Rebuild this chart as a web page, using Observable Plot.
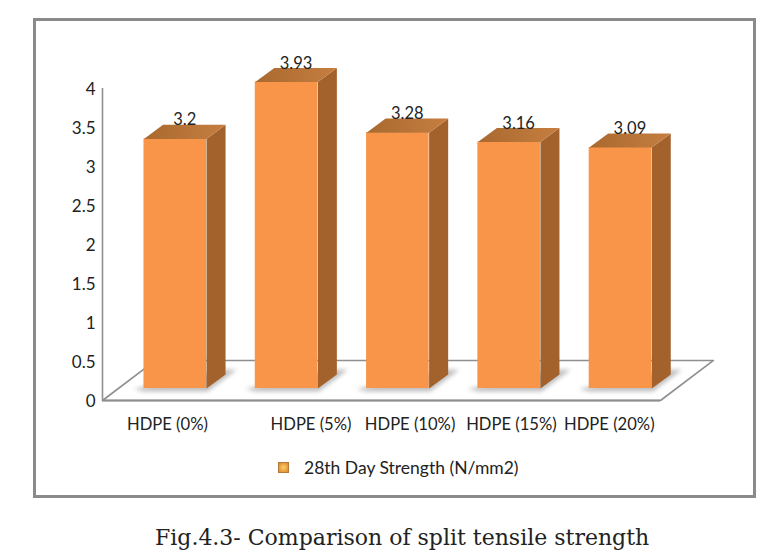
<!DOCTYPE html>
<html>
<head>
<meta charset="utf-8">
<script src="https://cdn.jsdelivr.net/npm/d3@7"></script>
<script src="https://cdn.jsdelivr.net/npm/@observablehq/plot@0.6"></script>
<style>
  html, body { margin: 0; background: #fff; }
  #page { position: relative; width: 773px; height: 553px; overflow: hidden; }
  #frame { position: absolute; left: 33px; top: 18px; width: 723px; height: 480px; box-sizing: border-box; border: 3px solid #8a8a8a; }
  #chart { position: absolute; left: 0; top: 0; }
  #legend { position: absolute; left: 278px; top: 457px; height: 20px; display: flex; align-items: center; font: 17.5px Lato, sans-serif; color: #222; white-space: nowrap; }
  #legend i { display: block; width: 11px; height: 11px; margin-right: 15px; background: radial-gradient(circle at 50% 50%, #fbd060, #dd8433); border: 0.5px solid #b5793a; box-sizing: border-box; }
  #caption { position: absolute; left: 155px; top: 525px; font: 22px "DejaVu Serif", serif; color: #222; white-space: nowrap; }
</style>
</head>
<body>
<div id="page">
  <div id="frame"></div>
  <div id="chart"></div>
  <div id="legend"><i></i><span id="legendText"></span></div>
  <div id="caption"></div>
</div>
<script>
const categories = ["HDPE (0%)", "HDPE (5%)", "HDPE (10%)", "HDPE (15%)", "HDPE (20%)"];
const strength = [3.2, 3.93, 3.28, 3.16, 3.09];
const yTicks = [0, 0.5, 1, 1.5, 2, 2.5, 3, 3.5, 4];
const labelNudge = [-0.07, 0.22, 0.11, 0.02, -0.10];
const seriesName = "28th Day Strength (N/mm2)";
const captionText = "Fig.4.3- Comparison of split tensile strength";

// Pseudo-3D geometry, in data units
const halfBar = 0.281, depthX = 0.171, depthY = 0.18;
const lift = 0.154;                    // bars stand inset on the floor
const floorDX = 0.476, floorDY = 0.513;
const xMin = -0.6536, xMax = 4.3598;

const bars = categories.map((name, i) => ({
  name, i, value: strength[i],
  l: i - halfBar, r: i + halfBar,
  b: lift, t: strength[i] + lift
}));

const poly = (fn) => bars.flatMap(b => fn(b).map(([x, y]) => ({x, y, z: b.i})));

const floor = [[xMin, 0], [xMax, 0], [xMax + floorDX, floorDY], [xMin + floorDX, floorDY]]
  .map(([x, y]) => ({x, y}));

const tops = poly(b => [[b.l, b.t], [b.r, b.t], [b.r + depthX, b.t + depthY], [b.l + depthX, b.t + depthY]]);
const sides = poly(b => [[b.r, b.b], [b.r + depthX, b.b + depthY], [b.r + depthX, b.t + depthY], [b.r, b.t]]);
const shadows = poly(b => [
  [b.l - 0.09, b.b - 0.005], [b.l, b.b - 0.04], [b.r + 0.01, b.b - 0.04],
  [b.r + 0.27, b.b + 0.24], [b.r + 0.13, b.b + 0.24]
]);

const defs = () => {
  const svg = d3.create("svg:defs");
  const g = svg.append("linearGradient").attr("id", "topGrad")
    .attr("x1", "0").attr("y1", "0").attr("x2", "1").attr("y2", "0");
  g.append("stop").attr("offset", "0").attr("stop-color", "#a9692f");
  g.append("stop").attr("offset", "1").attr("stop-color", "#c67e40");
  return svg.node();
};

const blurred = (index, scales, values, dims, ctx, next) => {
  const g = next(index, scales, values, dims, ctx);
  g.style.filter = "blur(2px)";
  return g;
};

const plot = Plot.plot({
  width: 773, height: 440,
  marginLeft: 102, marginRight: 113, marginTop: 88, marginBottom: 40,
  style: { background: "transparent", overflow: "visible" },
  x: { type: "linear", domain: [xMin, xMax], axis: null },
  y: { domain: [0, 4], axis: null },
  marks: [
    defs,
    Plot.line(floor, { x: "x", y: "y", curve: "linear-closed", fill: "#fff", stroke: "#8f8f8f", strokeWidth: 1.6 }),
    Plot.ruleY([0], { x1: xMin, x2: xMax, stroke: "#8f8f8f", strokeWidth: 2.2 }),
    Plot.ruleX([xMin], { y1: 0, y2: 4, stroke: "#8f8f8f", strokeWidth: 1.6 }),
    Plot.line(shadows, { x: "x", y: "y", z: "z", curve: "linear-closed", fill: "#8a8a8a", fillOpacity: 0.55, stroke: "none", render: blurred }),
    Plot.rectY(bars, { x1: "l", x2: "r", y1: "b", y2: "t", fill: "#f89548" }),
    Plot.line(sides, { x: "x", y: "y", z: "z", curve: "linear-closed", fill: "#a3622c", stroke: "none" }),
    Plot.line(tops, { x: "x", y: "y", z: "z", curve: "linear-closed", fill: "url(#topGrad)", stroke: "none" }),
    Plot.text(yTicks, { x: xMin, y: d => d, text: d => String(d), textAnchor: "end", dx: -7, dy: 1, fontSize: 17, fontFamily: "Lato", fill: "#222" }),
    Plot.text(bars, { x: d => d.i + labelNudge[d.i], y: 0, text: "name", dy: 24, fontSize: 16.6, fontFamily: "Lato", fill: "#222" }),
    Plot.text(bars, { x: d => d.i + 0.085, y: d => d.t + 0.24, text: d => String(d.value), fontSize: 16.5, fontFamily: "Lato", fill: "#222" })
  ]
});
document.getElementById("chart").append(plot);
document.getElementById("legendText").textContent = seriesName;
document.getElementById("caption").textContent = captionText;
</script>
</body>
</html>
